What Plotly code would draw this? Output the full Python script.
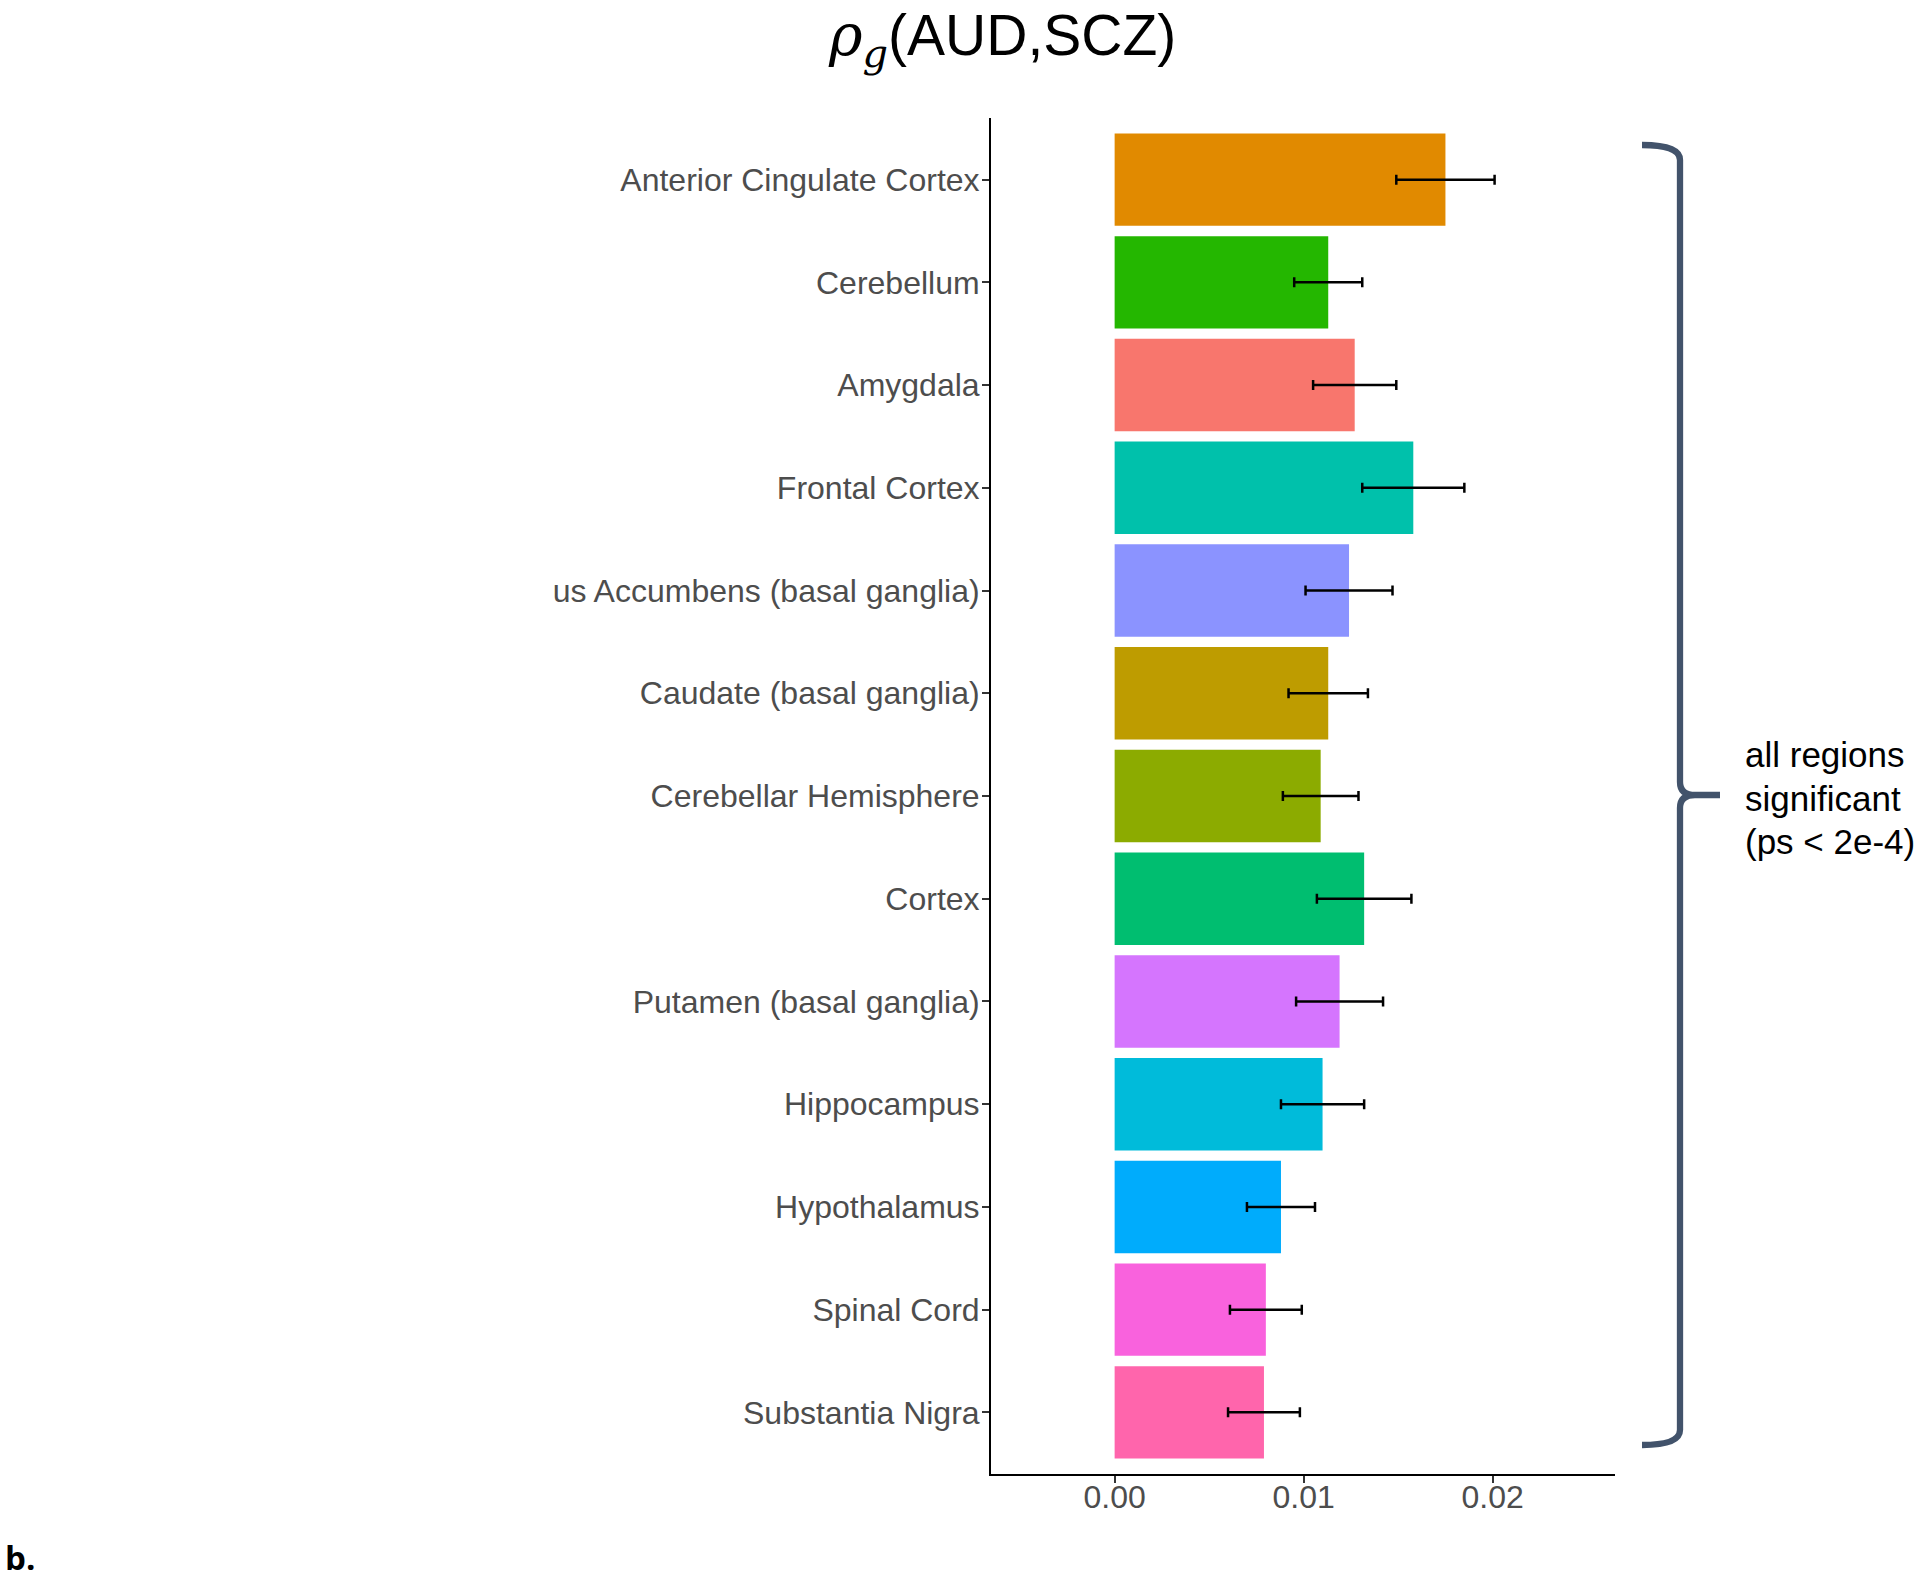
import plotly.graph_objects as go

# ---------------- data ----------------
regions = [
    "Anterior Cingulate Cortex",
    "Cerebellum",
    "Amygdala",
    "Frontal Cortex",
    "us Accumbens (basal ganglia)",
    "Caudate (basal ganglia)",
    "Cerebellar Hemisphere",
    "Cortex",
    "Putamen (basal ganglia)",
    "Hippocampus",
    "Hypothalamus",
    "Spinal Cord",
    "Substantia Nigra",
]
rho_g = [0.0175, 0.0113, 0.0127, 0.0158, 0.0124, 0.0113, 0.0109,
         0.0132, 0.0119, 0.0110, 0.0088, 0.0080, 0.0079]
se = [0.0026, 0.0018, 0.0022, 0.0027, 0.0023, 0.0021, 0.0020,
      0.0025, 0.0023, 0.0022, 0.0018, 0.0019, 0.0019]
colors = ["#E18A00", "#24B700", "#F8766D", "#00C1AB", "#8B93FF", "#BE9C00",
          "#8CAB00", "#00BE70", "#D575FE", "#00BBDA", "#00ACFC", "#F962DD",
          "#FF65AC"]
x_ticks = [0.00, 0.01, 0.02]
x_ticklabels = ["0.00", "0.01", "0.02"]
note_lines = ["all regions", "significant", "(ps < 2e-4)"]

# ---------------- layout geometry (pixels) ----------------
W, H = 1920, 1582
L, R, T, B = 991, 305, 118, 108
PW, PH = W - L - R, H - T - B


def px(X):
    return (X - L) / PW


def py(Y):
    return 1 - (Y - T) / PH


fig = go.Figure()
fig.add_trace(go.Bar(
    y=regions, x=rho_g, orientation="h",
    marker=dict(color=colors, line=dict(width=0)),
    width=0.9,
    error_x=dict(type="data", array=se, visible=True, color="black",
                 thickness=2.5, width=5),
    showlegend=False,
))

FONT = "Liberation Sans, Arial, sans-serif"
fig.update_layout(
    width=W, height=H,
    margin=dict(l=L, r=R, t=T, b=B, pad=0),
    paper_bgcolor="white", plot_bgcolor="white",
    font=dict(family=FONT, color="#4D4D4D"),
    bargap=0.1,
)
fig.update_xaxes(
    range=[-0.00654, 0.02647], tickvals=x_ticks, ticktext=x_ticklabels,
    showgrid=False, zeroline=False,
    showline=True, linecolor="black", linewidth=2,
    ticks="outside", ticklen=7, tickwidth=2, tickcolor="#333333",
    tickfont=dict(size=32, color="#4D4D4D", family=FONT),
    ticklabelstandoff=-13,
)
fig.update_yaxes(
    categoryorder="array", categoryarray=regions[::-1],
    range=[-0.6, 12.6],
    showgrid=False, zeroline=False,
    showline=True, linecolor="black", linewidth=2,
    ticks="outside", ticklen=7, tickwidth=2, tickcolor="#333333",
    tickfont=dict(size=32, color="#4D4D4D", family=FONT),
    ticklabelstandoff=-4,
)

# title
fig.add_annotation(
    xref="paper", yref="paper", x=px(1002), y=py(39),
    xanchor="center", yanchor="middle", showarrow=False,
    text=("<span style='font-family:DejaVu Serif'><i>ρ</i></span>"
          "<sub><span style='font-family:DejaVu Serif'><i>g</i></span></sub>"
          "(AUD,SCZ)"),
    font=dict(size=57, color="black", family=FONT),
)

# brace
pts = [(1642, 145), (1680, 145), (1680, 160), (1680, 782), (1680, 795),
       (1695, 795), (1720, 795), (1695, 795), (1680, 795), (1680, 808),
       (1680, 1430), (1680, 1445), (1642, 1445)]
P = [(px(a), py(b)) for a, b in pts]
path = (f"M {P[0][0]},{P[0][1]} Q {P[1][0]},{P[1][1]} {P[2][0]},{P[2][1]} "
        f"L {P[3][0]},{P[3][1]} Q {P[4][0]},{P[4][1]} {P[5][0]},{P[5][1]} "
        f"L {P[6][0]},{P[6][1]} M {P[7][0]},{P[7][1]} "
        f"Q {P[8][0]},{P[8][1]} {P[9][0]},{P[9][1]} "
        f"L {P[10][0]},{P[10][1]} Q {P[11][0]},{P[11][1]} {P[12][0]},{P[12][1]}")
fig.add_shape(type="path", xref="paper", yref="paper", path=path,
              line=dict(color="#42536B", width=6.3))

for line_text, ypix in zip(note_lines, [755, 798, 841]):
    fig.add_annotation(
        xref="paper", yref="paper", x=px(1743), y=py(ypix),
        xanchor="left", yanchor="middle", align="left", showarrow=False,
        text=line_text,
        font=dict(size=35, color="black", family=FONT),
    )

fig.add_annotation(
    xref="paper", yref="paper", x=px(3), y=py(1557),
    xanchor="left", yanchor="middle", showarrow=False,
    text="<b>b.</b>",
    font=dict(size=33, color="black", family="Open Sans, Liberation Sans"),
)

fig.write_html("out.html", config={"displayModeBar": False},
               post_script="document.body.style.margin='0';")
